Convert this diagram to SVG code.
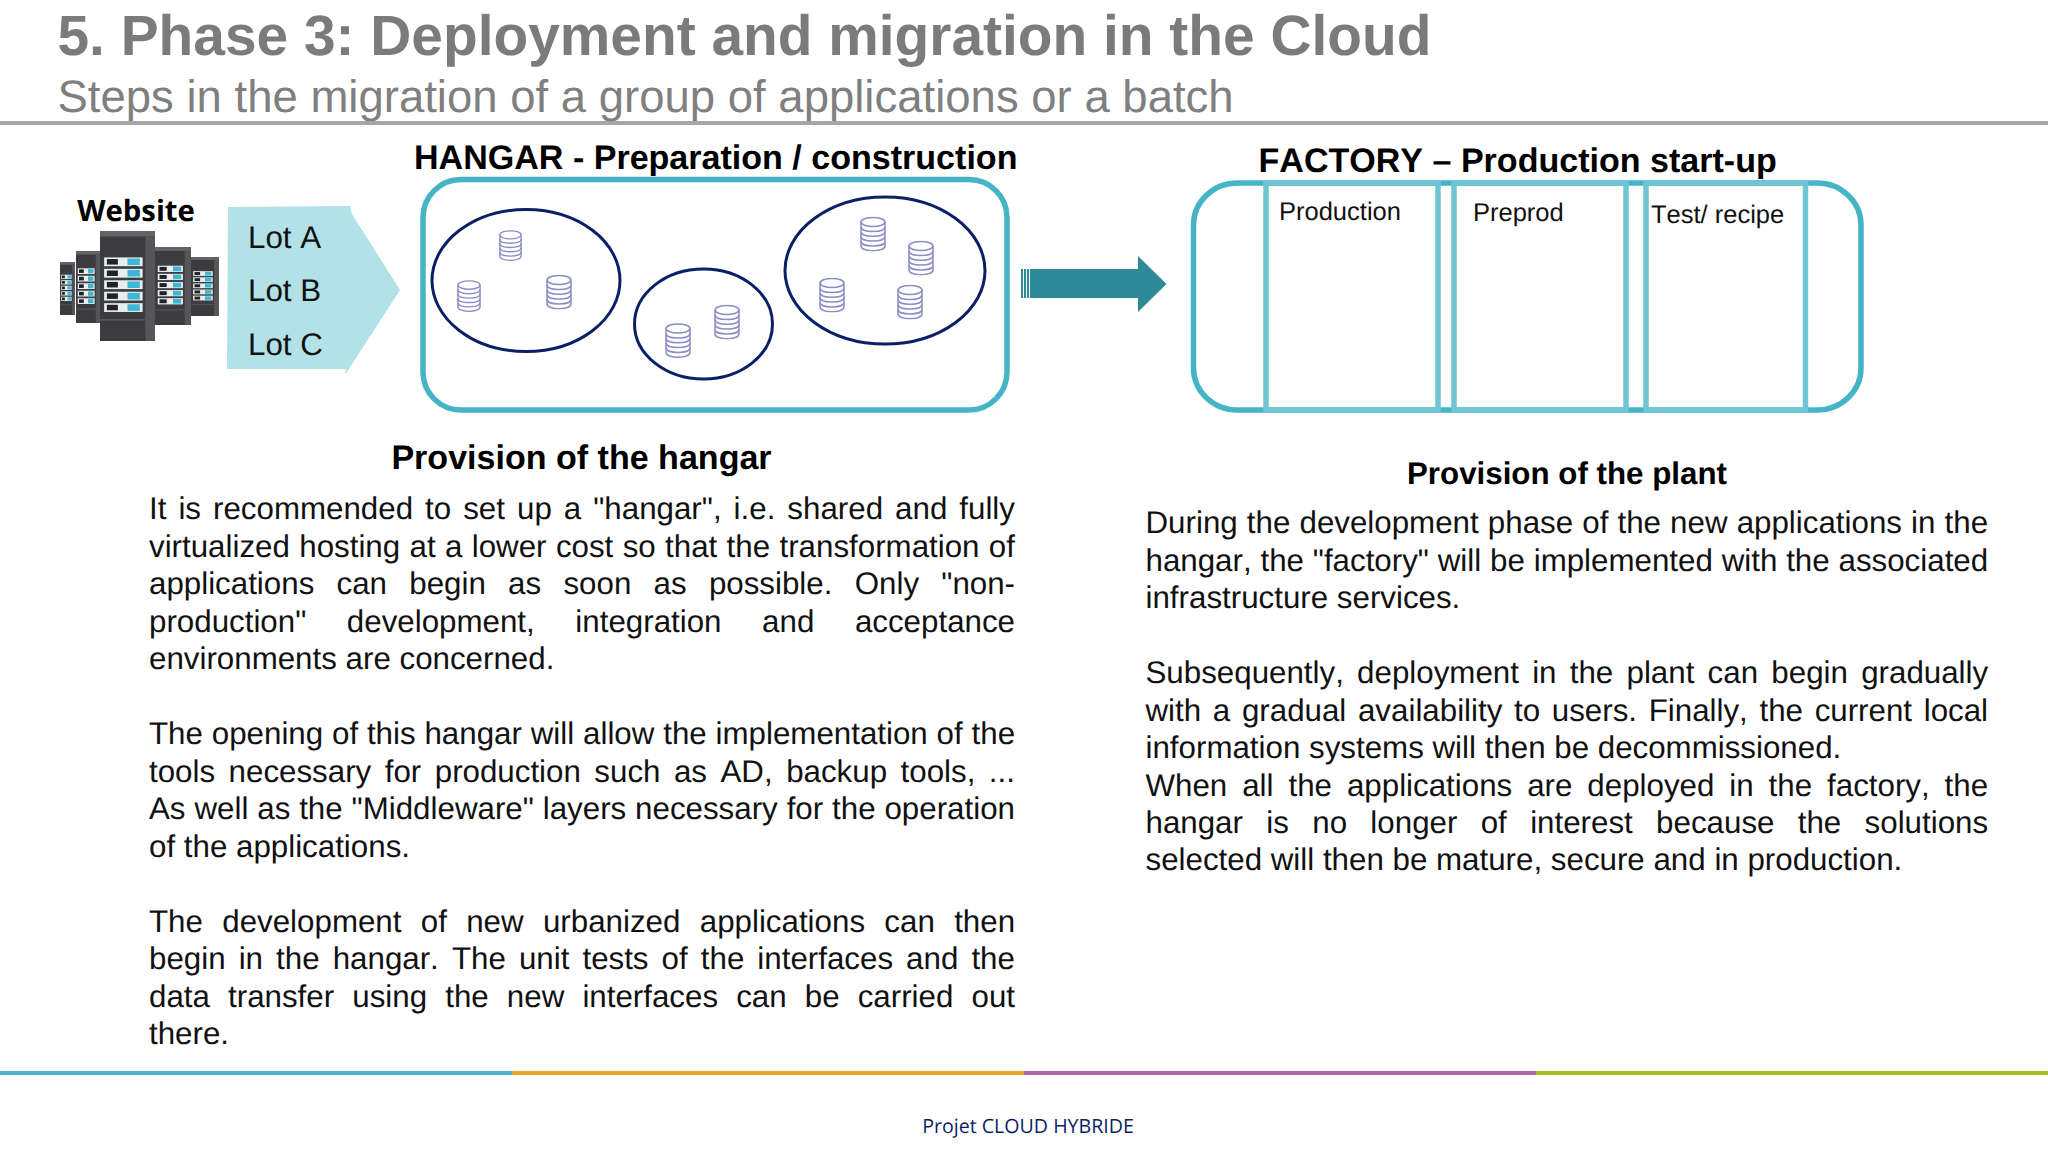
<svg xmlns="http://www.w3.org/2000/svg" width="2048" height="1152" viewBox="0 0 2048 1152" font-family="'Liberation Sans', Arial, sans-serif">
<style>
text{font-kerning:none;text-rendering:geometricPrecision}
.title{font-size:56.85px;font-weight:700;fill:#7b7b7b}
.sub{font-size:45.5px;fill:#7f7f7f}
.h{font-size:34.05px;font-weight:700;fill:#000}
.h2{font-size:31.3px;font-weight:700;fill:#000}
.b{font-size:31.3px;fill:#111}
.lab{font-size:25.5px;fill:#111}
.lot{font-size:31.3px;fill:#111}
.box{fill:none;stroke:#45b5c6;stroke-width:5.5}
.col{fill:none;stroke:#6fc5d3;stroke-width:5.5}
.ell{fill:#fff;stroke:#0b1f66;stroke-width:3}
.cy{fill:#fff;stroke:#8d8dc6;stroke-width:1.5}
.cl{fill:none;stroke:#8d8dc6;stroke-width:1.5}
.rk{fill:#3c3c3e}
.rt{fill:#636365}
.rs{fill:#565658}
.u{fill:#e8eef0}
.ud{fill:#222}
.ub{fill:#3cb8d6}
</style>
<defs>
<symbol id="db" viewBox="0.5 0.5 25 35" preserveAspectRatio="none">
<path class="cy" d="M1.5 6V30C1.5 33 7 34.800 13 34.800S24.500 33 24.500 30V6"/>
<ellipse class="cy" cx="13" cy="6" rx="11.500" ry="4.600"/>
<path class="cl" d="M1.500 11C1.500 14 7 15.500 13 15.500S24.500 14 24.500 11M1.500 15.800C1.500 18.800 7 20.300 13 20.300S24.500 18.800 24.500 15.800M1.500 20.600C1.500 23.600 7 25.100 13 25.100S24.500 23.600 24.500 20.600M1.500 25.400C1.500 28.400 7 29.900 13 29.900S24.500 28.400 24.500 25.400"/>
</symbol>
<g id="unit">
<rect class="u" x="3" y="0" width="28" height="8"/><rect class="ud" x="5" y="1.500" width="8" height="5"/><rect class="ub" x="20" y="1" width="9" height="6"/>
</g>
<g id="rack">
<rect class="rk" x="0" y="0" width="40" height="100"/>
<rect class="rt" x="0" y="0" width="40" height="5"/>
<rect class="rs" x="33" y="5" width="7" height="95"/>
<rect x="0" y="80" width="33" height="1.500" fill="#555"/>
<use href="#unit" y="24"/>
<use href="#unit" y="34.400"/>
<use href="#unit" y="44.800"/>
<use href="#unit" y="55.200"/>
<use href="#unit" y="65.600"/>
</g>
</defs>
<rect width="2048" height="1152" fill="#fff"/>

<g id="header">
<text class="title" x="57.500" y="55">5. Phase 3: Deployment and migration in the Cloud</text>
<text class="sub" x="57.500" y="112">Steps in the migration of a group of applications or a batch</text>
<rect x="0" y="121" width="2048" height="4" fill="#a6a6a6"/>
</g>

<g id="website">
<text x="136" y="220.500" text-anchor="middle" font-family="'Open Sans','Noto Sans',sans-serif" font-weight="700" font-size="29.300" fill="#000">Website</text>
<use href="#rack" transform="translate(60,262) scale(0.375,0.53)"/>
<use href="#rack" transform="translate(191,257) scale(0.7,0.59)"/>
<use href="#rack" transform="translate(76,251) scale(0.6,0.72)"/>
<use href="#rack" transform="translate(155,247) scale(0.9,0.78)"/>
<use href="#rack" transform="translate(100,231) scale(1.375,1.1)"/>
</g>

<g id="lots">
<polygon points="228,207 350,206 352,214 400,290 345,375 346,369 227,369" fill="#b2e2e8"/>
<text class="lot" x="248" y="247.500">Lot A</text>
<text class="lot" x="248" y="301">Lot B</text>
<text class="lot" x="248" y="354.500">Lot C</text>
</g>

<g id="hangar">
<text class="h" x="414" y="169">HANGAR - Preparation / construction</text>
<rect class="box" x="423" y="179.500" width="584" height="230.500" rx="38" ry="38"/>
<ellipse class="ell" cx="526" cy="280.500" rx="94" ry="71"/>
<ellipse class="ell" cx="703.500" cy="324" rx="69" ry="55"/>
<ellipse class="ell" cx="885" cy="270.500" rx="100" ry="73.500"/>
<use href="#db" x="499" y="230" width="23" height="31"/>
<use href="#db" x="457" y="280" width="24" height="32"/>
<use href="#db" x="546" y="274.500" width="26" height="35"/>
<use href="#db" x="665" y="323" width="26" height="35"/>
<use href="#db" x="714" y="304.500" width="26" height="35"/>
<use href="#db" x="860" y="216.500" width="26" height="35"/>
<use href="#db" x="908" y="240.500" width="26" height="35"/>
<use href="#db" x="819" y="277.500" width="26" height="35"/>
<use href="#db" x="897" y="284.500" width="26" height="35"/>
</g>

<g id="connectors">
<rect x="1021" y="269" width="2" height="29" fill="#2e8a96"/>
<rect x="1024" y="269" width="2" height="29" fill="#2e8a96"/>
<rect x="1027" y="269" width="2" height="29" fill="#2e8a96"/>
<polygon points="1030,269 1138,269 1138,256 1166.500,284 1138,312 1138,298 1030,298" fill="#2e8a96"/>
</g>

<g id="factory">
<text class="h" x="1258.500" y="171.500">FACTORY – Production start-up</text>
<rect class="box" x="1193.500" y="183" width="667.500" height="227" rx="44" ry="42"/>
<rect class="col" x="1266" y="183" width="172" height="227"/>
<rect class="col" x="1454" y="183" width="172" height="227"/>
<rect class="col" x="1646" y="183" width="159.500" height="227"/>
<text class="lab" x="1279" y="220">Production</text>
<text class="lab" x="1473" y="221">Preprod</text>
<text class="lab" x="1651" y="223">Test/ recipe</text>
</g>

<g id="left-text">
<text class="h" x="581.500" y="469" text-anchor="middle">Provision of the hangar</text>
<text class="b" x="149" y="519" word-spacing="3.32">It is recommended to set up a "hangar", i.e. shared and fully</text>
<text class="b" x="149" y="556.500" word-spacing="0.66">virtualized hosting at a lower cost so that the transformation of</text>
<text class="b" x="149" y="594" word-spacing="13.57">applications can begin as soon as possible. Only "non-</text>
<text class="b" x="149" y="631.500" word-spacing="31.9">production" development, integration and acceptance</text>
<text class="b" x="149" y="669">environments are concerned.</text>
<text class="b" x="149" y="744" word-spacing="0.14">The opening of this hangar will allow the implementation of the</text>
<text class="b" x="149" y="781.600" word-spacing="4.79">tools necessary for production such as AD, backup tools, ...</text>
<text class="b" x="149" y="819.100" word-spacing="0.2">As well as the "Middleware" layers necessary for the operation</text>
<text class="b" x="149" y="856.800">of the applications.</text>
<text class="b" x="149" y="931.800" word-spacing="10.63">The development of new urbanized applications can then</text>
<text class="b" x="149" y="969.400" word-spacing="4.38">begin in the hangar. The unit tests of the interfaces and the</text>
<text class="b" x="149" y="1007" word-spacing="9.43">data transfer using the new interfaces can be carried out</text>
<text class="b" x="149" y="1044.300">there.</text>
</g>

<g id="right-text">
<text class="h2" x="1407" y="484">Provision of the plant</text>
<text class="b" x="1145.500" y="532.800" word-spacing="0.44">During the development phase of the new applications in the</text>
<text class="b" x="1145.500" y="570.600" word-spacing="0.13">hangar, the "factory" will be implemented with the associated</text>
<text class="b" x="1145.500" y="607.900">infrastructure services.</text>
<text class="b" x="1145.500" y="683" word-spacing="4.55">Subsequently, deployment in the plant can begin gradually</text>
<text class="b" x="1145.500" y="720.550" word-spacing="2.97">with a gradual availability to users. Finally, the current local</text>
<text class="b" x="1145.500" y="758.100">information systems will then be decommissioned.</text>
<text class="b" x="1145.500" y="795.650" word-spacing="6.25">When all the applications are deployed in the factory, the</text>
<text class="b" x="1145.500" y="833.200" word-spacing="14.64">hangar is no longer of interest because the solutions</text>
<text class="b" x="1145.500" y="870.400">selected will then be mature, secure and in production.</text>
</g>

<g id="footer">
<rect x="0" y="1071" width="512" height="4" fill="#4fb3c8"/>
<rect x="512" y="1071" width="512" height="4" fill="#efa61f"/>
<rect x="1024" y="1071" width="512" height="4" fill="#b06aa8"/>
<rect x="1536" y="1071" width="512" height="4" fill="#a7bf20"/>
<text x="1028" y="1133" text-anchor="middle" font-family="'Open Sans','Noto Sans',sans-serif" font-size="19.600" fill="#0b1f66">Projet CLOUD HYBRIDE</text>
</g>
</svg>
